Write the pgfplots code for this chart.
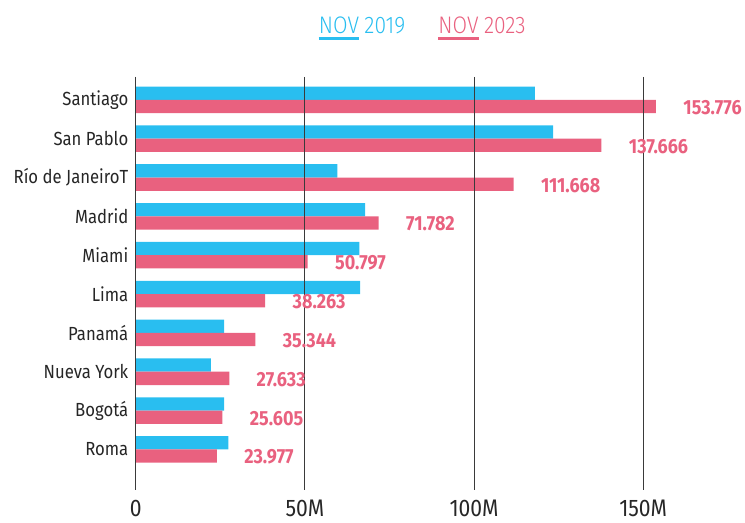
\documentclass[border=0pt]{standalone}
\usepackage{fontspec}
\setmainfont{Fira Sans}[FakeStretch=0.88]
\newfontfamily\lightfont{Fira Sans Light}[FakeStretch=0.88]
\usepackage{pgfplots}
\usepackage{pgfplotstable}
\pgfplotsset{compat=1.18}

\definecolor{c19}{HTML}{29BEF0}
\definecolor{c23}{HTML}{E9617F}
\definecolor{gridc}{HTML}{3A3A3A}

% values in millions; red column also printed as label
\pgfplotstableread{
idx b2019 r2023
0 118.0 153.776
1 123.4 137.666
2 59.6 111.668
3 67.8 71.782
4 66.1 50.797
5 66.3 38.263
6 26.1 35.344
7 22.2 27.633
8 26.1 25.605
9 27.4 23.977
}\datatbl

\begin{document}
\begin{tikzpicture}[x=1pt,y=1pt]
\begin{axis}[
    at={(0,0)}, anchor=south west,
    scale only axis,
    width=592.9pt, height=414pt,
    xbar, bar width=13.3pt,
    xmin=0, xmax=175,
    ymin=-0.59, ymax=10.05,
    y dir=reverse,
    axis x line*=bottom,
    x axis line style={draw=none},
    axis y line*=left,
    y axis line style={gridc, line width=1pt},
    xtick={0,50,100,150},
    xticklabels={0,50M,100M,150M},
    xmajorgrids,
    grid style={gridc, line width=0.9pt},
    major tick length=0pt,
    ytick={0,...,9},
    yticklabels={Santiago,San Pablo,Río de JaneiroT,Madrid,Miami,Lima,Panamá,Nueva York,Bogotá,Roma},
    /pgf/number format/assume math mode=true,
    xticklabel style={font=\fontsize{24}{26}\selectfont, text=black!85, yshift=-6pt},
    yticklabel style={font=\fontsize{19}{22}\selectfont, text=black!85, xshift=-4pt},
    axis on top,
    clip=false,
]
\addplot[fill=c19, draw=none, bar shift=6.65pt] table[x=b2019, y=idx] {\datatbl};
\addplot[fill=c23, draw=none, bar shift=-6.65pt,
    point meta=explicit symbolic,
    nodes near coords,
    every node near coord/.append style={anchor=west, xshift=24pt, yshift=-1pt, text=c23,
        font=\fontsize{20.5}{22}\selectfont\bfseries}]
    table[x=r2023, y=idx, meta=r2023] {\datatbl};
% legend
\node[anchor=west, inner sep=0pt, text=c19, font=\fontsize{24}{26}\lightfont] (n1) at (rel axis cs:0.309,1.1256) {NOV};
\node[anchor=base west, inner sep=0pt, text=c19, font=\fontsize{24}{26}\lightfont] at ([xshift=5pt]n1.base east) {2019};
\draw[c19, line width=3pt] ([yshift=-5pt]n1.south west) -- ([yshift=-5pt]n1.south east);
\node[anchor=west, inner sep=0pt, text=c23, font=\fontsize{24}{26}\lightfont] (n2) at (rel axis cs:0.511,1.1256) {NOV};
\node[anchor=base west, inner sep=0pt, text=c23, font=\fontsize{24}{26}\lightfont] at ([xshift=5pt]n2.base east) {2023};
\draw[c23, line width=3pt] ([yshift=-5pt]n2.south west) -- ([yshift=-5pt]n2.south east);
\end{axis}
\path (-136,-32) rectangle (609,491);
\end{tikzpicture}
\end{document}
